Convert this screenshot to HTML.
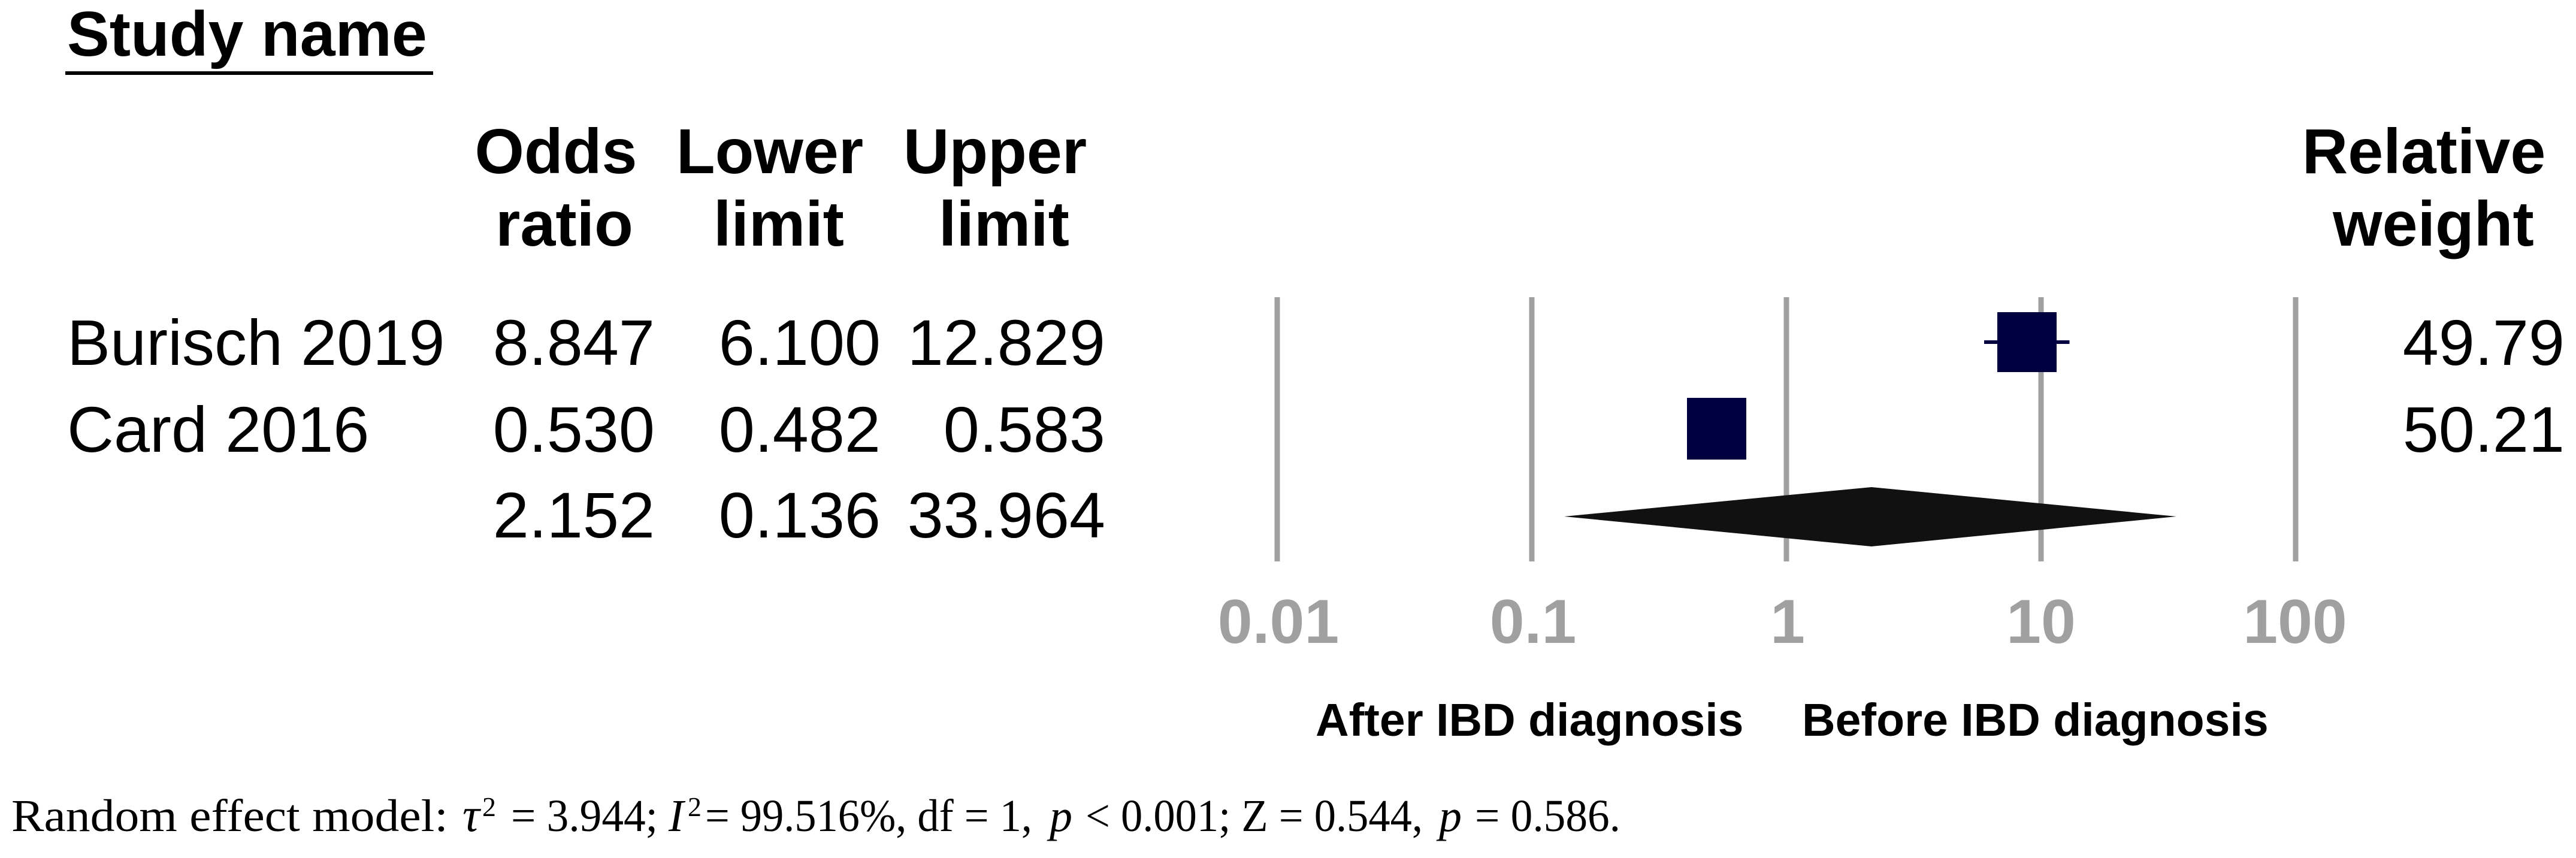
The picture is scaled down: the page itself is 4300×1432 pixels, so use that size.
<!DOCTYPE html>
<html>
<head>
<meta charset="utf-8">
<style>
html,body{margin:0;padding:0;background:#ffffff;}
svg{display:block;}
</style>
</head>
<body>
<svg width="4300" height="1432" viewBox="0 0 4300 1432" xmlns="http://www.w3.org/2000/svg">
<rect x="0" y="0" width="4300" height="1432" fill="#ffffff"/>

<!-- Header: Study name -->
<text x="112" y="93" font-family="'Liberation Sans', Arial, sans-serif" font-weight="bold" font-size="106" fill="#000">Study name</text>
<rect x="109" y="119" width="614" height="6" fill="#000"/>

<!-- Column headers -->
<g font-family="'Liberation Sans', Arial, sans-serif" font-weight="bold" font-size="106" fill="#000" text-anchor="middle">
  <text x="928" y="289">Odds</text>
  <text x="942" y="410">ratio</text>
  <text x="1285" y="289">Lower</text>
  <text x="1300" y="410">limit</text>
  <text x="1661" y="289">Upper</text>
  <text x="1676" y="410">limit</text>
  <text x="4046" y="289">Relative</text>
  <text x="4062" y="410">weight</text>
</g>

<!-- Study names -->
<g font-family="'Liberation Sans', Arial, sans-serif" font-size="108" fill="#000">
  <text x="112" y="609">Burisch 2019</text>
  <text x="112" y="754">Card 2016</text>
</g>

<!-- Numbers -->
<g font-family="'Liberation Sans', Arial, sans-serif" font-size="108" fill="#000" text-anchor="end">
  <text x="1093" y="609">8.847</text>
  <text x="1470" y="609">6.100</text>
  <text x="1845" y="609">12.829</text>
  <text x="1093" y="754">0.530</text>
  <text x="1470" y="754">0.482</text>
  <text x="1845" y="754">0.583</text>
  <text x="1093" y="897">2.152</text>
  <text x="1470" y="897">0.136</text>
  <text x="1845" y="897">33.964</text>
  <text x="4281" y="609">49.79</text>
  <text x="4281" y="754">50.21</text>
</g>

<!-- Gridlines -->
<g fill="#a0a0a0">
  <rect x="2127.5" y="496" width="9" height="441"/>
  <rect x="2552.5" y="496" width="9" height="441"/>
  <rect x="2977.5" y="496" width="9" height="441"/>
  <rect x="3402.5" y="496" width="9" height="441"/>
  <rect x="3827.5" y="496" width="9" height="441"/>
</g>

<!-- Burisch 2019 -->
<rect x="3312" y="568" width="142.5" height="6" fill="#000040"/>
<rect x="3334" y="521" width="99" height="100" fill="#000040"/>

<!-- Card 2016 -->
<rect x="2816" y="664" width="99" height="103" fill="#000040"/>

<!-- Summary diamond -->
<polygon points="2611,862 3124,813 3633,862 3124,912" fill="#111111"/>

<!-- Tick labels -->
<g font-family="'Liberation Sans', Arial, sans-serif" font-weight="bold" font-size="104" fill="#a0a0a0" text-anchor="middle">
  <text x="2134" y="1073">0.01</text>
  <text x="2559" y="1073">0.1</text>
  <text x="2984" y="1073">1</text>
  <text x="3407" y="1073">10</text>
  <text x="3831" y="1073">100</text>
</g>

<!-- Direction labels -->
<g font-family="'Liberation Sans', Arial, sans-serif" font-weight="bold" font-size="77" fill="#000">
  <text x="2196" y="1228">After IBD diagnosis</text>
  <text x="3008" y="1228">Before IBD diagnosis</text>
</g>

<!-- Footnote -->
<g font-family="'Liberation Serif', 'Times New Roman', serif" font-size="76" fill="#000">
  <text x="19" y="1387" textLength="729" lengthAdjust="spacingAndGlyphs">Random effect model:</text>
  <text x="772" y="1387" font-style="italic" font-size="80">τ</text>
  <text x="805" y="1362" font-size="46">2</text>
  <text x="853" y="1387" textLength="245" lengthAdjust="spacingAndGlyphs">= 3.944;</text>
  <text x="1116" y="1387" font-style="italic">I</text>
  <text x="1148" y="1362" font-size="46">2</text>
  <text x="1177" y="1387" textLength="546" lengthAdjust="spacingAndGlyphs">= 99.516%, df = 1,</text>
  <text x="1752" y="1387" font-style="italic">p</text>
  <text x="1812" y="1387" textLength="563" lengthAdjust="spacingAndGlyphs">&lt; 0.001; Z = 0.544,</text>
  <text x="2402" y="1387" font-style="italic">p</text>
  <text x="2462" y="1387" textLength="243" lengthAdjust="spacingAndGlyphs">= 0.586.</text>
</g>
</svg>
</body>
</html>
